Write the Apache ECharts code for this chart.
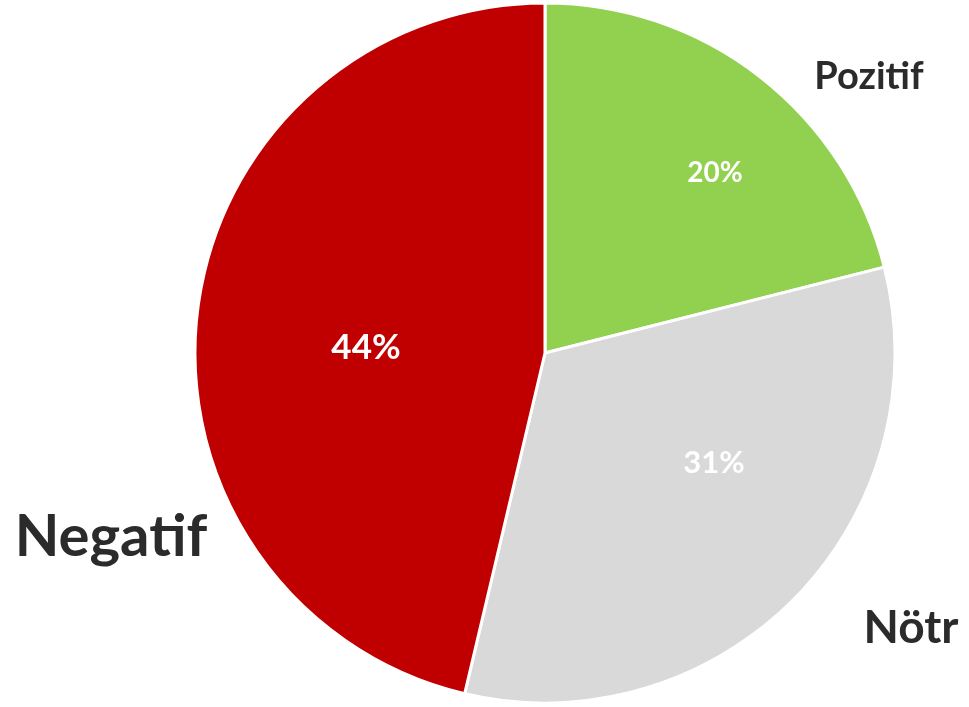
<!DOCTYPE html>
<html>
<head>
<meta charset="utf-8">
<script src="https://cdn.jsdelivr.net/npm/echarts@6/dist/echarts.min.js"></script>
<style>
  html, body { margin: 0; padding: 0; background: #fff; }
  #chart { width: 969px; height: 707px; }
</style>
</head>
<body>
<div id="chart"></div>
<script>
// data
const categories = ['Pozitif', 'Nötr', 'Negatif'];
const values = [20, 31, 44];
const colors = ['#92D050', '#D9D9D9', '#C00000'];

// label placement (moved by hand in the original)
const pctPos = [[715, 173], [714, 463], [366, 348]];
const pctSize = [28, 31, 35];
const namePos = [[869, 77], [911, 628], [111, 537]];
const nameSize = [38, 46, 58];

const pieData = categories.map((c, i) => ({
  name: c,
  value: values[i],
  itemStyle: { color: colors[i] },
  label: { fontSize: pctSize[i] }
}));
const nameData = categories.map((c, i) => ({
  name: c,
  value: values[i],
  label: { fontSize: nameSize[i] }
}));

const chart = echarts.init(document.getElementById('chart'));
chart.setOption({
  animation: false,
  series: [
    {
      type: 'pie',
      center: [545, 353],
      radius: 350,
      startAngle: 90,
      data: pieData,
      itemStyle: { borderColor: '#fff', borderWidth: 3 },
      label: {
        show: true,
        position: 'inside',
        formatter: '{c}%',
        color: '#fff',
        fontFamily: 'Lato',
        fontWeight: 'bold'
      },
      labelLine: { show: false },
      labelLayout: function (p) {
        const pos = pctPos[p.dataIndex];
        return { x: pos[0], y: pos[1], align: 'center', verticalAlign: 'middle' };
      },
      emphasis: { disabled: true }
    },
    {
      type: 'pie',
      center: [545, 353],
      radius: 350,
      startAngle: 90,
      silent: true,
      data: nameData,
      itemStyle: { color: 'rgba(0,0,0,0)' },
      label: {
        show: true,
        position: 'inside',
        overflow: 'none',
        formatter: '{b}',
        color: '#2b2b2b',
        fontFamily: 'Lato',
        fontWeight: 'bold'
      },
      labelLine: { show: false },
      labelLayout: function (p) {
        const pos = namePos[p.dataIndex];
        return { x: pos[0], y: pos[1], align: 'center', verticalAlign: 'middle' };
      },
      emphasis: { disabled: true }
    }
  ]
});
</script>
</body>
</html>
